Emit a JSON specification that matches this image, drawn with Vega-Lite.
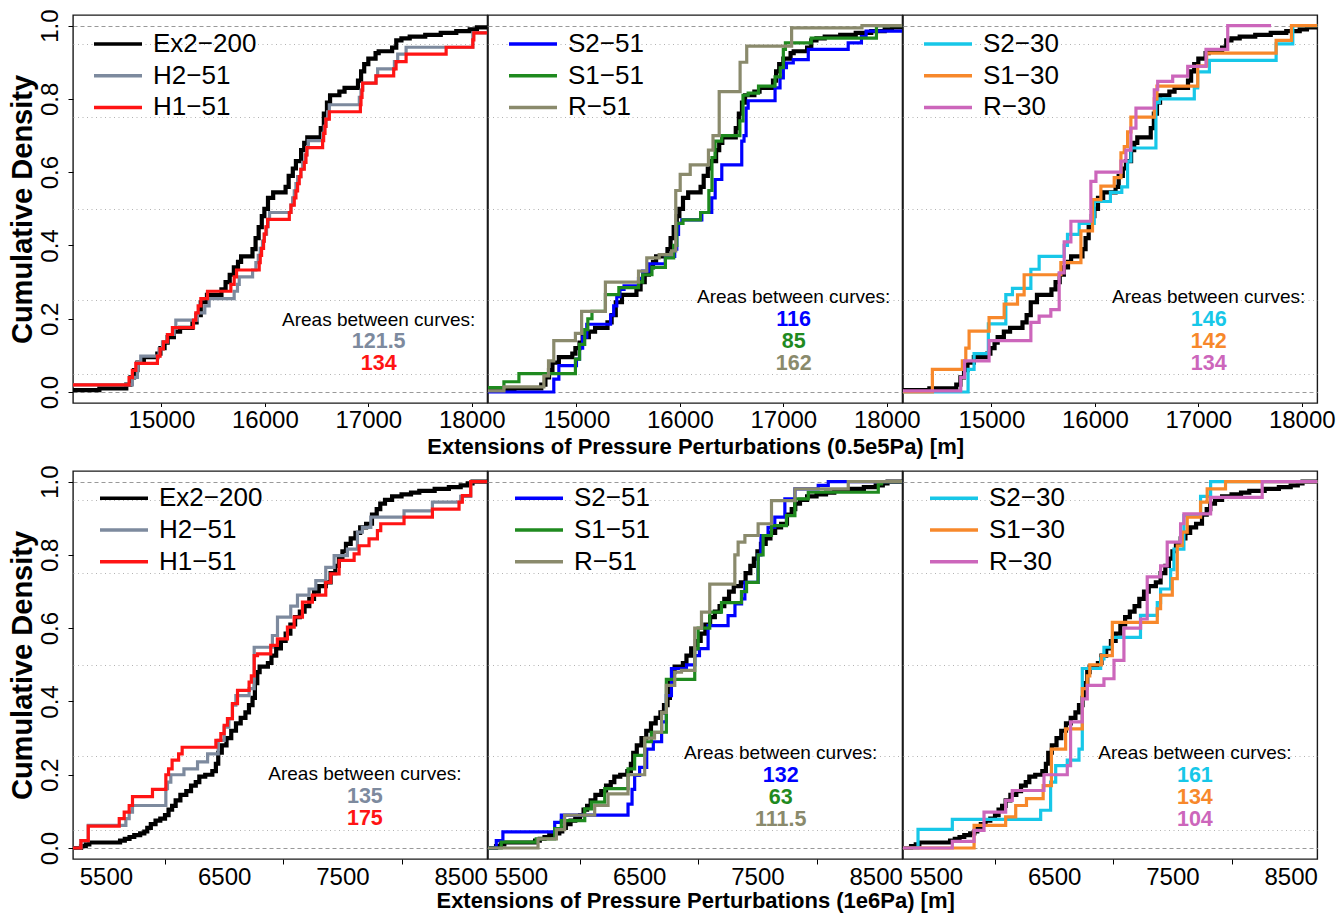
{
 "$schema": "https://vega.github.io/schema/vega-lite/v6.json",
 "padding": {"left": 7, "top": 8, "right": 2, "bottom": 2},
 "background": "white",
 "datasets": {
  "top": [
   {"series":"Ex2−200","x":14000,"y":0.005},{"series":"Ex2−200","x":14400,"y":0.01},{"series":"Ex2−200","x":14660,"y":0.02},{"series":"Ex2−200","x":14700,"y":0.04},{"series":"Ex2−200","x":14735,"y":0.06},{"series":"Ex2−200","x":14768,"y":0.08},{"series":"Ex2−200","x":14830,"y":0.095},{"series":"Ex2−200","x":14960,"y":0.105},{"series":"Ex2−200","x":14990,"y":0.12},{"series":"Ex2−200","x":15030,"y":0.135},{"series":"Ex2−200","x":15060,"y":0.15},{"series":"Ex2−200","x":15120,"y":0.165},{"series":"Ex2−200","x":15180,"y":0.175},{"series":"Ex2−200","x":15300,"y":0.19},{"series":"Ex2−200","x":15340,"y":0.21},{"series":"Ex2−200","x":15380,"y":0.245},{"series":"Ex2−200","x":15440,"y":0.265},{"series":"Ex2−200","x":15580,"y":0.28},{"series":"Ex2−200","x":15620,"y":0.3},{"series":"Ex2−200","x":15660,"y":0.32},{"series":"Ex2−200","x":15700,"y":0.34},{"series":"Ex2−200","x":15740,"y":0.355},{"series":"Ex2−200","x":15770,"y":0.37},{"series":"Ex2−200","x":15880,"y":0.39},{"series":"Ex2−200","x":15910,"y":0.42},{"series":"Ex2−200","x":15940,"y":0.45},{"series":"Ex2−200","x":15970,"y":0.48},{"series":"Ex2−200","x":15995,"y":0.5},{"series":"Ex2−200","x":16030,"y":0.53},{"series":"Ex2−200","x":16080,"y":0.545},{"series":"Ex2−200","x":16200,"y":0.56},{"series":"Ex2−200","x":16230,"y":0.59},{"series":"Ex2−200","x":16270,"y":0.61},{"series":"Ex2−200","x":16300,"y":0.63},{"series":"Ex2−200","x":16350,"y":0.66},{"series":"Ex2−200","x":16380,"y":0.68},{"series":"Ex2−200","x":16410,"y":0.695},{"series":"Ex2−200","x":16540,"y":0.72},{"series":"Ex2−200","x":16570,"y":0.76},{"series":"Ex2−200","x":16600,"y":0.79},{"series":"Ex2−200","x":16630,"y":0.81},{"series":"Ex2−200","x":16720,"y":0.82},{"series":"Ex2−200","x":16770,"y":0.83},{"series":"Ex2−200","x":16900,"y":0.85},{"series":"Ex2−200","x":16930,"y":0.875},{"series":"Ex2−200","x":16960,"y":0.895},{"series":"Ex2−200","x":17000,"y":0.91},{"series":"Ex2−200","x":17070,"y":0.925},{"series":"Ex2−200","x":17100,"y":0.93},{"series":"Ex2−200","x":17230,"y":0.94},{"series":"Ex2−200","x":17270,"y":0.96},{"series":"Ex2−200","x":17320,"y":0.965},{"series":"Ex2−200","x":17400,"y":0.97},{"series":"Ex2−200","x":17550,"y":0.975},{"series":"Ex2−200","x":17700,"y":0.98},{"series":"Ex2−200","x":17850,"y":0.985},{"series":"Ex2−200","x":17980,"y":0.99},{"series":"Ex2−200","x":18050,"y":0.995},{"series":"Ex2−200","x":18300,"y":1},
   {"series":"H2−51","x":14000,"y":0.0196},{"series":"H2−51","x":14719,"y":0.04},{"series":"H2−51","x":14768,"y":0.08},{"series":"H2−51","x":14800,"y":0.098},{"series":"H2−51","x":14977,"y":0.118},{"series":"H2−51","x":15010,"y":0.137},{"series":"H2−51","x":15058,"y":0.157},{"series":"H2−51","x":15123,"y":0.176},{"series":"H2−51","x":15139,"y":0.196},{"series":"H2−51","x":15348,"y":0.216},{"series":"H2−51","x":15419,"y":0.235},{"series":"H2−51","x":15461,"y":0.255},{"series":"H2−51","x":15703,"y":0.275},{"series":"H2−51","x":15735,"y":0.294},{"series":"H2−51","x":15752,"y":0.314},{"series":"H2−51","x":15881,"y":0.333},{"series":"H2−51","x":15913,"y":0.353},{"series":"H2−51","x":15936,"y":0.373},{"series":"H2−51","x":15955,"y":0.392},{"series":"H2−51","x":15977,"y":0.412},{"series":"H2−51","x":15994,"y":0.431},{"series":"H2−51","x":16016,"y":0.451},{"series":"H2−51","x":16032,"y":0.471},{"series":"H2−51","x":16045,"y":0.49},{"series":"H2−51","x":16252,"y":0.51},{"series":"H2−51","x":16268,"y":0.53},{"series":"H2−51","x":16284,"y":0.549},{"series":"H2−51","x":16300,"y":0.569},{"series":"H2−51","x":16316,"y":0.588},{"series":"H2−51","x":16348,"y":0.608},{"series":"H2−51","x":16365,"y":0.627},{"series":"H2−51","x":16387,"y":0.647},{"series":"H2−51","x":16406,"y":0.667},{"series":"H2−51","x":16419,"y":0.686},{"series":"H2−51","x":16558,"y":0.706},{"series":"H2−51","x":16574,"y":0.725},{"series":"H2−51","x":16590,"y":0.745},{"series":"H2−51","x":16606,"y":0.765},{"series":"H2−51","x":16623,"y":0.784},{"series":"H2−51","x":16913,"y":0.804},{"series":"H2−51","x":16929,"y":0.824},{"series":"H2−51","x":16945,"y":0.843},{"series":"H2−51","x":17074,"y":0.863},{"series":"H2−51","x":17090,"y":0.882},{"series":"H2−51","x":17252,"y":0.902},{"series":"H2−51","x":17284,"y":0.922},{"series":"H2−51","x":17365,"y":0.941},{"series":"H2−51","x":18010,"y":0.98},{"series":"H2−51","x":18300,"y":1},
   {"series":"H1−51","x":14000,"y":0.0196},{"series":"H1−51","x":14687,"y":0.039},{"series":"H1−51","x":14719,"y":0.059},{"series":"H1−51","x":14752,"y":0.078},{"series":"H1−51","x":14961,"y":0.098},{"series":"H1−51","x":14987,"y":0.118},{"series":"H1−51","x":15019,"y":0.137},{"series":"H1−51","x":15058,"y":0.157},{"series":"H1−51","x":15106,"y":0.176},{"series":"H1−51","x":15310,"y":0.196},{"series":"H1−51","x":15332,"y":0.216},{"series":"H1−51","x":15355,"y":0.235},{"series":"H1−51","x":15381,"y":0.255},{"series":"H1−51","x":15445,"y":0.275},{"series":"H1−51","x":15671,"y":0.294},{"series":"H1−51","x":15703,"y":0.314},{"series":"H1−51","x":15726,"y":0.333},{"series":"H1−51","x":15945,"y":0.353},{"series":"H1−51","x":15955,"y":0.373},{"series":"H1−51","x":15968,"y":0.392},{"series":"H1−51","x":15987,"y":0.412},{"series":"H1−51","x":15994,"y":0.431},{"series":"H1−51","x":16010,"y":0.451},{"series":"H1−51","x":16026,"y":0.471},{"series":"H1−51","x":16236,"y":0.49},{"series":"H1−51","x":16252,"y":0.51},{"series":"H1−51","x":16284,"y":0.53},{"series":"H1−51","x":16300,"y":0.549},{"series":"H1−51","x":16316,"y":0.569},{"series":"H1−51","x":16332,"y":0.588},{"series":"H1−51","x":16348,"y":0.608},{"series":"H1−51","x":16381,"y":0.627},{"series":"H1−51","x":16397,"y":0.647},{"series":"H1−51","x":16406,"y":0.667},{"series":"H1−51","x":16558,"y":0.686},{"series":"H1−51","x":16568,"y":0.706},{"series":"H1−51","x":16581,"y":0.725},{"series":"H1−51","x":16590,"y":0.745},{"series":"H1−51","x":16623,"y":0.765},{"series":"H1−51","x":16923,"y":0.784},{"series":"H1−51","x":16929,"y":0.804},{"series":"H1−51","x":16939,"y":0.824},{"series":"H1−51","x":16945,"y":0.843},{"series":"H1−51","x":17074,"y":0.863},{"series":"H1−51","x":17245,"y":0.882},{"series":"H1−51","x":17268,"y":0.902},{"series":"H1−51","x":17365,"y":0.922},{"series":"H1−51","x":17752,"y":0.941},{"series":"H1−51","x":18010,"y":0.961},{"series":"H1−51","x":18020,"y":0.98},{"series":"H1−51","x":18300,"y":1},
   {"series":"S2−51","x":14000,"y":0},{"series":"S2−51","x":14781,"y":0.035},{"series":"S2−51","x":14830,"y":0.072},{"series":"S2−51","x":15000,"y":0.09},{"series":"S2−51","x":15030,"y":0.12},{"series":"S2−51","x":15060,"y":0.15},{"series":"S2−51","x":15100,"y":0.185},{"series":"S2−51","x":15330,"y":0.21},{"series":"S2−51","x":15360,"y":0.235},{"series":"S2−51","x":15390,"y":0.26},{"series":"S2−51","x":15420,"y":0.28},{"series":"S2−51","x":15460,"y":0.29},{"series":"S2−51","x":15600,"y":0.31},{"series":"S2−51","x":15640,"y":0.33},{"series":"S2−51","x":15700,"y":0.35},{"series":"S2−51","x":15860,"y":0.37},{"series":"S2−51","x":15950,"y":0.39},{"series":"S2−51","x":15970,"y":0.43},{"series":"S2−51","x":15987,"y":0.46},{"series":"S2−51","x":16019,"y":0.47},{"series":"S2−51","x":16212,"y":0.49},{"series":"S2−51","x":16308,"y":0.53},{"series":"S2−51","x":16341,"y":0.58},{"series":"S2−51","x":16405,"y":0.62},{"series":"S2−51","x":16598,"y":0.685},{"series":"S2−51","x":16620,"y":0.7},{"series":"S2−51","x":16640,"y":0.775},{"series":"S2−51","x":16660,"y":0.795},{"series":"S2−51","x":16920,"y":0.83},{"series":"S2−51","x":16968,"y":0.857},{"series":"S2−51","x":17000,"y":0.885},{"series":"S2−51","x":17030,"y":0.898},{"series":"S2−51","x":17096,"y":0.907},{"series":"S2−51","x":17241,"y":0.935},{"series":"S2−51","x":17627,"y":0.953},{"series":"S2−51","x":17755,"y":0.97},{"series":"S2−51","x":17800,"y":0.985},{"series":"S2−51","x":18300,"y":1},
   {"series":"S1−51","x":14000,"y":0.012},{"series":"S1−51","x":14299,"y":0.028},{"series":"S1−51","x":14444,"y":0.05},{"series":"S1−51","x":14990,"y":0.09},{"series":"S1−51","x":15030,"y":0.13},{"series":"S1−51","x":15080,"y":0.17},{"series":"S1−51","x":15110,"y":0.2},{"series":"S1−51","x":15150,"y":0.22},{"series":"S1−51","x":15280,"y":0.266},{"series":"S1−51","x":15410,"y":0.285},{"series":"S1−51","x":15600,"y":0.3},{"series":"S1−51","x":15640,"y":0.32},{"series":"S1−51","x":15730,"y":0.34},{"series":"S1−51","x":15860,"y":0.366},{"series":"S1−51","x":15940,"y":0.4},{"series":"S1−51","x":15970,"y":0.46},{"series":"S1−51","x":16030,"y":0.47},{"series":"S1−51","x":16200,"y":0.49},{"series":"S1−51","x":16280,"y":0.55},{"series":"S1−51","x":16310,"y":0.64},{"series":"S1−51","x":16340,"y":0.685},{"series":"S1−51","x":16405,"y":0.7},{"series":"S1−51","x":16580,"y":0.74},{"series":"S1−51","x":16610,"y":0.81},{"series":"S1−51","x":16660,"y":0.816},{"series":"S1−51","x":16760,"y":0.835},{"series":"S1−51","x":16920,"y":0.86},{"series":"S1−51","x":16970,"y":0.885},{"series":"S1−51","x":17000,"y":0.935},{"series":"S1−51","x":17020,"y":0.953},{"series":"S1−51","x":17270,"y":0.966},{"series":"S1−51","x":17900,"y":1},{"series":"S1−51","x":18300,"y":1},
   {"series":"R−51","x":14000,"y":0.003},{"series":"R−51","x":14299,"y":0.014},{"series":"R−51","x":14685,"y":0.044},{"series":"R−51","x":14730,"y":0.085},{"series":"R−51","x":14781,"y":0.14},{"series":"R−51","x":14990,"y":0.16},{"series":"R−51","x":15050,"y":0.22},{"series":"R−51","x":15280,"y":0.3},{"series":"R−51","x":15600,"y":0.33},{"series":"R−51","x":15680,"y":0.366},{"series":"R−51","x":15800,"y":0.375},{"series":"R−51","x":15920,"y":0.385},{"series":"R−51","x":15960,"y":0.55},{"series":"R−51","x":16003,"y":0.594},{"series":"R−51","x":16100,"y":0.62},{"series":"R−51","x":16276,"y":0.66},{"series":"R−51","x":16320,"y":0.7},{"series":"R−51","x":16380,"y":0.82},{"series":"R−51","x":16582,"y":0.9},{"series":"R−51","x":16646,"y":0.944},{"series":"R−51","x":17080,"y":0.994},{"series":"R−51","x":17760,"y":1},{"series":"R−51","x":18300,"y":1},
   {"series":"S2−30","x":14000,"y":0},{"series":"S2−30","x":14774,"y":0.062},{"series":"S2−30","x":14832,"y":0.105},{"series":"S2−30","x":14970,"y":0.186},{"series":"S2−30","x":15139,"y":0.266},{"series":"S2−30","x":15203,"y":0.283},{"series":"S2−30","x":15381,"y":0.335},{"series":"S2−30","x":15461,"y":0.37},{"series":"S2−30","x":15703,"y":0.4},{"series":"S2−30","x":15735,"y":0.43},{"series":"S2−30","x":15848,"y":0.46},{"series":"S2−30","x":15994,"y":0.52},{"series":"S2−30","x":16150,"y":0.545},{"series":"S2−30","x":16260,"y":0.56},{"series":"S2−30","x":16316,"y":0.63},{"series":"S2−30","x":16348,"y":0.666},{"series":"S2−30","x":16590,"y":0.79},{"series":"S2−30","x":16623,"y":0.8},{"series":"S2−30","x":16961,"y":0.83},{"series":"S2−30","x":16994,"y":0.874},{"series":"S2−30","x":17107,"y":0.905},{"series":"S2−30","x":17752,"y":0.95},{"series":"S2−30","x":17913,"y":1},{"series":"S2−30","x":18300,"y":1},
   {"series":"S1−30","x":14000,"y":0},{"series":"S1−30","x":14429,"y":0.062},{"series":"S1−30","x":14719,"y":0.085},{"series":"S1−30","x":14752,"y":0.12},{"series":"S1−30","x":14784,"y":0.166},{"series":"S1−30","x":14977,"y":0.203},{"series":"S1−30","x":15123,"y":0.24},{"series":"S1−30","x":15252,"y":0.265},{"series":"S1−30","x":15316,"y":0.32},{"series":"S1−30","x":15671,"y":0.353},{"series":"S1−30","x":15865,"y":0.44},{"series":"S1−30","x":15977,"y":0.525},{"series":"S1−30","x":16058,"y":0.562},{"series":"S1−30","x":16187,"y":0.585},{"series":"S1−30","x":16252,"y":0.653},{"series":"S1−30","x":16284,"y":0.67},{"series":"S1−30","x":16316,"y":0.71},{"series":"S1−30","x":16348,"y":0.75},{"series":"S1−30","x":16574,"y":0.8},{"series":"S1−30","x":16600,"y":0.835},{"series":"S1−30","x":16994,"y":0.89},{"series":"S1−30","x":17080,"y":0.925},{"series":"S1−30","x":17752,"y":0.96},{"series":"S1−30","x":17900,"y":1},{"series":"S1−30","x":18300,"y":1},
   {"series":"R−30","x":14000,"y":0.003},{"series":"R−30","x":14703,"y":0.04},{"series":"R−30","x":14740,"y":0.085},{"series":"R−30","x":14977,"y":0.14},{"series":"R−30","x":15381,"y":0.19},{"series":"R−30","x":15461,"y":0.207},{"series":"R−30","x":15574,"y":0.225},{"series":"R−30","x":15655,"y":0.325},{"series":"R−30","x":15703,"y":0.41},{"series":"R−30","x":15768,"y":0.466},{"series":"R−30","x":15961,"y":0.575},{"series":"R−30","x":16010,"y":0.6},{"series":"R−30","x":16252,"y":0.63},{"series":"R−30","x":16300,"y":0.66},{"series":"R−30","x":16348,"y":0.72},{"series":"R−30","x":16397,"y":0.775},{"series":"R−30","x":16574,"y":0.825},{"series":"R−30","x":16607,"y":0.848},{"series":"R−30","x":16752,"y":0.862},{"series":"R−30","x":16897,"y":0.889},{"series":"R−30","x":17074,"y":0.935},{"series":"R−30","x":17284,"y":1},{"series":"R−30","x":17703,"y":1}
  ],
  "bot": [
   {"series":"Ex2−200","x":5000,"y":0},{"series":"Ex2−200","x":5290,"y":0.005},{"series":"Ex2−200","x":5330,"y":0.01},{"series":"Ex2−200","x":5360,"y":0.015},{"series":"Ex2−200","x":5620,"y":0.02},{"series":"Ex2−200","x":5660,"y":0.025},{"series":"Ex2−200","x":5700,"y":0.03},{"series":"Ex2−200","x":5740,"y":0.035},{"series":"Ex2−200","x":5790,"y":0.04},{"series":"Ex2−200","x":5825,"y":0.045},{"series":"Ex2−200","x":5850,"y":0.055},{"series":"Ex2−200","x":5880,"y":0.065},{"series":"Ex2−200","x":5920,"y":0.075},{"series":"Ex2−200","x":5960,"y":0.08},{"series":"Ex2−200","x":6000,"y":0.09},{"series":"Ex2−200","x":6030,"y":0.105},{"series":"Ex2−200","x":6060,"y":0.115},{"series":"Ex2−200","x":6090,"y":0.13},{"series":"Ex2−200","x":6130,"y":0.145},{"series":"Ex2−200","x":6180,"y":0.155},{"series":"Ex2−200","x":6220,"y":0.17},{"series":"Ex2−200","x":6260,"y":0.18},{"series":"Ex2−200","x":6290,"y":0.195},{"series":"Ex2−200","x":6340,"y":0.2},{"series":"Ex2−200","x":6400,"y":0.21},{"series":"Ex2−200","x":6430,"y":0.23},{"series":"Ex2−200","x":6450,"y":0.26},{"series":"Ex2−200","x":6480,"y":0.28},{"series":"Ex2−200","x":6520,"y":0.3},{"series":"Ex2−200","x":6560,"y":0.32},{"series":"Ex2−200","x":6600,"y":0.34},{"series":"Ex2−200","x":6640,"y":0.355},{"series":"Ex2−200","x":6680,"y":0.37},{"series":"Ex2−200","x":6710,"y":0.39},{"series":"Ex2−200","x":6740,"y":0.41},{"series":"Ex2−200","x":6760,"y":0.45},{"series":"Ex2−200","x":6780,"y":0.48},{"series":"Ex2−200","x":6800,"y":0.495},{"series":"Ex2−200","x":6870,"y":0.505},{"series":"Ex2−200","x":6900,"y":0.525},{"series":"Ex2−200","x":6940,"y":0.545},{"series":"Ex2−200","x":6980,"y":0.565},{"series":"Ex2−200","x":7020,"y":0.585},{"series":"Ex2−200","x":7060,"y":0.61},{"series":"Ex2−200","x":7100,"y":0.63},{"series":"Ex2−200","x":7140,"y":0.645},{"series":"Ex2−200","x":7180,"y":0.66},{"series":"Ex2−200","x":7220,"y":0.68},{"series":"Ex2−200","x":7260,"y":0.7},{"series":"Ex2−200","x":7300,"y":0.715},{"series":"Ex2−200","x":7360,"y":0.725},{"series":"Ex2−200","x":7400,"y":0.75},{"series":"Ex2−200","x":7440,"y":0.77},{"series":"Ex2−200","x":7470,"y":0.79},{"series":"Ex2−200","x":7500,"y":0.81},{"series":"Ex2−200","x":7530,"y":0.83},{"series":"Ex2−200","x":7570,"y":0.845},{"series":"Ex2−200","x":7610,"y":0.86},{"series":"Ex2−200","x":7650,"y":0.875},{"series":"Ex2−200","x":7700,"y":0.885},{"series":"Ex2−200","x":7750,"y":0.91},{"series":"Ex2−200","x":7790,"y":0.925},{"series":"Ex2−200","x":7820,"y":0.94},{"series":"Ex2−200","x":7860,"y":0.95},{"series":"Ex2−200","x":7920,"y":0.96},{"series":"Ex2−200","x":8000,"y":0.965},{"series":"Ex2−200","x":8080,"y":0.97},{"series":"Ex2−200","x":8150,"y":0.975},{"series":"Ex2−200","x":8280,"y":0.98},{"series":"Ex2−200","x":8400,"y":0.985},{"series":"Ex2−200","x":8500,"y":0.99},{"series":"Ex2−200","x":8560,"y":0.995},{"series":"Ex2−200","x":8600,"y":1},{"series":"Ex2−200","x":8800,"y":1},
   {"series":"H2−51","x":5000,"y":0},{"series":"H2−51","x":5289,"y":0.02},{"series":"H2−51","x":5351,"y":0.062},{"series":"H2−51","x":5669,"y":0.08},{"series":"H2−51","x":5697,"y":0.098},{"series":"H2−51","x":5725,"y":0.116},{"series":"H2−51","x":6007,"y":0.162},{"series":"H2−51","x":6021,"y":0.18},{"series":"H2−51","x":6049,"y":0.2},{"series":"H2−51","x":6160,"y":0.216},{"series":"H2−51","x":6275,"y":0.235},{"series":"H2−51","x":6360,"y":0.257},{"series":"H2−51","x":6450,"y":0.294},{"series":"H2−51","x":6500,"y":0.33},{"series":"H2−51","x":6540,"y":0.353},{"series":"H2−51","x":6570,"y":0.39},{"series":"H2−51","x":6599,"y":0.416},{"series":"H2−51","x":6711,"y":0.435},{"series":"H2−51","x":6754,"y":0.548},{"series":"H2−51","x":6908,"y":0.58},{"series":"H2−51","x":6951,"y":0.63},{"series":"H2−51","x":7063,"y":0.66},{"series":"H2−51","x":7120,"y":0.69},{"series":"H2−51","x":7218,"y":0.707},{"series":"H2−51","x":7275,"y":0.73},{"series":"H2−51","x":7359,"y":0.766},{"series":"H2−51","x":7430,"y":0.798},{"series":"H2−51","x":7542,"y":0.816},{"series":"H2−51","x":7627,"y":0.862},{"series":"H2−51","x":7669,"y":0.875},{"series":"H2−51","x":7740,"y":0.903},{"series":"H2−51","x":8021,"y":0.92},{"series":"H2−51","x":8261,"y":0.944},{"series":"H2−51","x":8500,"y":0.96},{"series":"H2−51","x":8585,"y":1},{"series":"H2−51","x":8800,"y":1},
   {"series":"H1−51","x":5000,"y":0},{"series":"H1−51","x":5289,"y":0.02},{"series":"H1−51","x":5351,"y":0.06},{"series":"H1−51","x":5613,"y":0.08},{"series":"H1−51","x":5655,"y":0.098},{"series":"H1−51","x":5697,"y":0.116},{"series":"H1−51","x":5725,"y":0.14},{"series":"H1−51","x":5894,"y":0.16},{"series":"H1−51","x":6007,"y":0.2},{"series":"H1−51","x":6030,"y":0.216},{"series":"H1−51","x":6060,"y":0.24},{"series":"H1−51","x":6115,"y":0.257},{"series":"H1−51","x":6145,"y":0.275},{"series":"H1−51","x":6430,"y":0.294},{"series":"H1−51","x":6472,"y":0.312},{"series":"H1−51","x":6500,"y":0.335},{"series":"H1−51","x":6528,"y":0.353},{"series":"H1−51","x":6570,"y":0.394},{"series":"H1−51","x":6613,"y":0.43},{"series":"H1−51","x":6711,"y":0.453},{"series":"H1−51","x":6730,"y":0.47},{"series":"H1−51","x":6754,"y":0.525},{"series":"H1−51","x":6782,"y":0.53},{"series":"H1−51","x":6894,"y":0.553},{"series":"H1−51","x":6950,"y":0.571},{"series":"H1−51","x":7035,"y":0.603},{"series":"H1−51","x":7092,"y":0.63},{"series":"H1−51","x":7162,"y":0.671},{"series":"H1−51","x":7246,"y":0.69},{"series":"H1−51","x":7359,"y":0.725},{"series":"H1−51","x":7401,"y":0.748},{"series":"H1−51","x":7472,"y":0.785},{"series":"H1−51","x":7599,"y":0.803},{"series":"H1−51","x":7641,"y":0.825},{"series":"H1−51","x":7725,"y":0.844},{"series":"H1−51","x":7796,"y":0.866},{"series":"H1−51","x":7824,"y":0.885},{"series":"H1−51","x":8021,"y":0.903},{"series":"H1−51","x":8261,"y":0.925},{"series":"H1−51","x":8486,"y":0.944},{"series":"H1−51","x":8514,"y":0.962},{"series":"H1−51","x":8585,"y":1},{"series":"H1−51","x":8800,"y":1},
   {"series":"S2−51","x":5000,"y":0},{"series":"S2−51","x":5292,"y":0.02},{"series":"S2−51","x":5348,"y":0.044},{"series":"S2−51","x":5786,"y":0.07},{"series":"S2−51","x":5842,"y":0.09},{"series":"S2−51","x":6406,"y":0.12},{"series":"S2−51","x":6440,"y":0.16},{"series":"S2−51","x":6462,"y":0.198},{"series":"S2−51","x":6504,"y":0.22},{"series":"S2−51","x":6564,"y":0.27},{"series":"S2−51","x":6620,"y":0.29},{"series":"S2−51","x":6690,"y":0.344},{"series":"S2−51","x":6730,"y":0.416},{"series":"S2−51","x":6773,"y":0.49},{"series":"S2−51","x":6900,"y":0.5},{"series":"S2−51","x":6970,"y":0.525},{"series":"S2−51","x":7010,"y":0.544},{"series":"S2−51","x":7083,"y":0.607},{"series":"S2−51","x":7252,"y":0.634},{"series":"S2−51","x":7310,"y":0.666},{"series":"S2−51","x":7366,"y":0.68},{"series":"S2−51","x":7394,"y":0.725},{"series":"S2−51","x":7506,"y":0.8},{"series":"S2−51","x":7530,"y":0.853},{"series":"S2−51","x":7590,"y":0.875},{"series":"S2−51","x":7647,"y":0.903},{"series":"S2−51","x":7732,"y":0.953},{"series":"S2−51","x":7817,"y":0.98},{"series":"S2−51","x":8014,"y":0.99},{"series":"S2−51","x":8099,"y":1},{"series":"S2−51","x":8800,"y":1},
   {"series":"S1−51","x":5000,"y":0},{"series":"S1−51","x":5334,"y":0.016},{"series":"S1−51","x":5630,"y":0.025},{"series":"S1−51","x":5786,"y":0.053},{"series":"S1−51","x":5842,"y":0.075},{"series":"S1−51","x":6040,"y":0.107},{"series":"S1−51","x":6096,"y":0.125},{"series":"S1−51","x":6209,"y":0.162},{"series":"S1−51","x":6406,"y":0.216},{"series":"S1−51","x":6462,"y":0.253},{"series":"S1−51","x":6547,"y":0.29},{"series":"S1−51","x":6603,"y":0.316},{"series":"S1−51","x":6730,"y":0.46},{"series":"S1−51","x":6970,"y":0.544},{"series":"S1−51","x":6999,"y":0.6},{"series":"S1−51","x":7097,"y":0.644},{"series":"S1−51","x":7196,"y":0.67},{"series":"S1−51","x":7365,"y":0.7},{"series":"S1−51","x":7408,"y":0.725},{"series":"S1−51","x":7506,"y":0.8},{"series":"S1−51","x":7548,"y":0.853},{"series":"S1−51","x":7619,"y":0.88},{"series":"S1−51","x":7746,"y":0.907},{"series":"S1−51","x":7817,"y":0.953},{"series":"S1−51","x":7930,"y":0.971},{"series":"S1−51","x":8522,"y":0.994},{"series":"S1−51","x":8550,"y":1},{"series":"S1−51","x":8800,"y":1},
   {"series":"R−51","x":5000,"y":0},{"series":"R−51","x":5645,"y":0.025},{"series":"R−51","x":5800,"y":0.05},{"series":"R−51","x":5870,"y":0.09},{"series":"R−51","x":6124,"y":0.116},{"series":"R−51","x":6237,"y":0.148},{"series":"R−51","x":6406,"y":0.2},{"series":"R−51","x":6547,"y":0.3},{"series":"R−51","x":6630,"y":0.316},{"series":"R−51","x":6690,"y":0.37},{"series":"R−51","x":6730,"y":0.444},{"series":"R−51","x":6801,"y":0.48},{"series":"R−51","x":6858,"y":0.485},{"series":"R−51","x":6970,"y":0.6},{"series":"R−51","x":7027,"y":0.644},{"series":"R−51","x":7097,"y":0.72},{"series":"R−51","x":7309,"y":0.8},{"series":"R−51","x":7337,"y":0.835},{"series":"R−51","x":7394,"y":0.853},{"series":"R−51","x":7506,"y":0.885},{"series":"R−51","x":7619,"y":0.948},{"series":"R−51","x":7817,"y":0.98},{"series":"R−51","x":8268,"y":1},{"series":"R−51","x":8800,"y":1},
   {"series":"S2−30","x":5000,"y":0},{"series":"S2−30","x":5349,"y":0.051},{"series":"S2−30","x":5639,"y":0.078},{"series":"S2−30","x":6386,"y":0.103},{"series":"S2−30","x":6470,"y":0.18},{"series":"S2−30","x":6513,"y":0.225},{"series":"S2−30","x":6611,"y":0.24},{"series":"S2−30","x":6710,"y":0.27},{"series":"S2−30","x":6738,"y":0.49},{"series":"S2−30","x":6893,"y":0.516},{"series":"S2−30","x":6921,"y":0.548},{"series":"S2−30","x":6992,"y":0.575},{"series":"S2−30","x":7230,"y":0.635},{"series":"S2−30","x":7372,"y":0.67},{"series":"S2−30","x":7400,"y":0.707},{"series":"S2−30","x":7485,"y":0.76},{"series":"S2−30","x":7513,"y":0.816},{"series":"S2−30","x":7597,"y":0.907},{"series":"S2−30","x":7738,"y":0.96},{"series":"S2−30","x":7823,"y":1},{"series":"S2−30","x":8800,"y":1},
   {"series":"S1−30","x":5000,"y":0},{"series":"S1−30","x":5823,"y":0.062},{"series":"S1−30","x":6090,"y":0.085},{"series":"S1−30","x":6175,"y":0.116},{"series":"S1−30","x":6266,"y":0.135},{"series":"S1−30","x":6407,"y":0.17},{"series":"S1−30","x":6477,"y":0.27},{"series":"S1−30","x":6597,"y":0.325},{"series":"S1−30","x":6738,"y":0.435},{"series":"S1−30","x":6780,"y":0.47},{"series":"S1−30","x":6801,"y":0.5},{"series":"S1−30","x":6900,"y":0.525},{"series":"S1−30","x":6992,"y":0.616},{"series":"S1−30","x":7372,"y":0.653},{"series":"S1−30","x":7400,"y":0.69},{"series":"S1−30","x":7499,"y":0.735},{"series":"S1−30","x":7541,"y":0.825},{"series":"S1−30","x":7583,"y":0.862},{"series":"S1−30","x":7625,"y":0.903},{"series":"S1−30","x":7738,"y":0.944},{"series":"S1−30","x":7794,"y":0.98},{"series":"S1−30","x":7949,"y":1},{"series":"S1−30","x":8800,"y":1},
   {"series":"R−30","x":5000,"y":0},{"series":"R−30","x":5639,"y":0.018},{"series":"R−30","x":5823,"y":0.048},{"series":"R−30","x":5907,"y":0.098},{"series":"R−30","x":6090,"y":0.13},{"series":"R−30","x":6146,"y":0.157},{"series":"R−30","x":6414,"y":0.2},{"series":"R−30","x":6611,"y":0.225},{"series":"R−30","x":6639,"y":0.344},{"series":"R−30","x":6738,"y":0.407},{"series":"R−30","x":6780,"y":0.444},{"series":"R−30","x":6921,"y":0.462},{"series":"R−30","x":7006,"y":0.512},{"series":"R−30","x":7090,"y":0.6},{"series":"R−30","x":7231,"y":0.625},{"series":"R−30","x":7287,"y":0.74},{"series":"R−30","x":7400,"y":0.77},{"series":"R−30","x":7456,"y":0.835},{"series":"R−30","x":7569,"y":0.885},{"series":"R−30","x":7597,"y":0.912},{"series":"R−30","x":7823,"y":0.957},{"series":"R−30","x":8259,"y":1},{"series":"R−30","x":8800,"y":1}
  ],
  "notes": [
   {"panel":"t1","x":17100,"y":0.18,"label":"Areas between curves:","series":""},
   {"panel":"t1","x":17100,"y":0.12,"label":"121.5","series":"H2−51"},
   {"panel":"t1","x":17100,"y":0.059,"label":"134","series":"H1−51"},
   {"panel":"t2","x":17100,"y":0.243,"label":"Areas between curves:","series":""},
   {"panel":"t2","x":17100,"y":0.18,"label":"116","series":"S2−51"},
   {"panel":"t2","x":17100,"y":0.12,"label":"85","series":"S1−51"},
   {"panel":"t2","x":17100,"y":0.06,"label":"162","series":"R−51"},
   {"panel":"t3","x":17100,"y":0.243,"label":"Areas between curves:","series":""},
   {"panel":"t3","x":17100,"y":0.18,"label":"146","series":"S2−30"},
   {"panel":"t3","x":17100,"y":0.12,"label":"142","series":"S1−30"},
   {"panel":"t3","x":17100,"y":0.06,"label":"134","series":"R−30"},
   {"panel":"b1","x":7690,"y":0.185,"label":"Areas between curves:","series":""},
   {"panel":"b1","x":7690,"y":0.122,"label":"135","series":"H2−51"},
   {"panel":"b1","x":7690,"y":0.062,"label":"175","series":"H1−51"},
   {"panel":"b2","x":7697,"y":0.243,"label":"Areas between curves:","series":""},
   {"panel":"b2","x":7697,"y":0.18,"label":"132","series":"S2−51"},
   {"panel":"b2","x":7697,"y":0.12,"label":"63","series":"S1−51"},
   {"panel":"b2","x":7697,"y":0.06,"label":"111.5","series":"R−51"},
   {"panel":"b3","x":7690,"y":0.243,"label":"Areas between curves:","series":""},
   {"panel":"b3","x":7690,"y":0.18,"label":"161","series":"S2−30"},
   {"panel":"b3","x":7690,"y":0.12,"label":"134","series":"S1−30"},
   {"panel":"b3","x":7690,"y":0.06,"label":"104","series":"R−30"}
  ]
 },
 "columns": 3,
 "spacing": {"row": 68, "column": 0},
 "bounds": "flush",
 "resolve": {"scale": {"color": "independent"}},
 "concat": [
    {
     "width": 414.3, "height": 388,
     "encoding": {
      "x": {"field": "x", "type": "quantitative", "scale": {"domain": [14145, 18150], "nice": false, "zero": false}, "axis": {"values": [15000, 16000, 17000, 18000], "format": "d", "tickSize": 3.5, "labelPadding": 1.5, "title": null}},
      "y": {"field": "y", "type": "quantitative", "scale": {"domain": [-0.03, 1.029], "nice": false, "zero": false}, "axis": {"values": [0, 0.05, 0.2, 0.25, 0.4, 0.5, 0.6, 0.75, 0.8, 0.95, 1], "labelExpr": "round(datum.value*100) % 20 == 0 ? format(datum.value, '.1f') : ''", "labelAngle": 270, "labelAlign": "center", "labelBaseline": "alphabetic", "labelPadding": 11, "tickSize": 5, "tickOpacity": {"condition": {"test": "round(datum.value*100) % 20 == 0", "value": 1}, "value": 0}, "grid": true, "gridOpacity": {"condition": {"test": "round(datum.value*100) % 20 != 0 || datum.value == 0 || datum.value == 1", "value": 1}, "value": 0}, "gridDash": {"condition": {"test": "datum.value == 0 || datum.value == 1", "value": [4, 3]}, "value": [1, 3.5]}, "gridColor": {"condition": {"test": "datum.value == 0 || datum.value == 1", "value": "#999999"}, "value": "#b3b3b3"}, "gridWidth": 1.2, "title": "Cumulative Density", "titleFontSize": 29, "titleFontWeight": "bold", "titleAngle": 270, "titleAlign": "center", "titleBaseline": "alphabetic", "titleX": -42, "titleY": 194}}
     },
     "layer": [
      {"data": {"name": "top"}, "transform": [{"filter": {"field": "series", "equal": "Ex2−200"}}], "mark": {"type": "line", "interpolate": "step-after", "strokeWidth": 4.2, "clip": true}, "encoding": {"color": {"field": "series", "type": "nominal", "scale": {"domain": ["Ex2−200", "H2−51", "H1−51"], "range": ["#000000", "#7d8a9e", "#ff1414"]}, "legend": {"title": null, "orient": "none", "legendX": 19, "legendY": 13.5}}}},
      {"data": {"name": "top"}, "transform": [{"filter": {"field": "series", "oneOf": ["H2−51", "H1−51"]}}], "mark": {"type": "line", "interpolate": "step-after", "strokeWidth": 3.2, "clip": true}, "encoding": {"color": {"field": "series", "type": "nominal", "scale": {"domain": ["Ex2−200", "H2−51", "H1−51"], "range": ["#000000", "#7d8a9e", "#ff1414"]}, "legend": {"title": null, "orient": "none", "legendX": 19, "legendY": 13.5}}}},
      {"data": {"name": "notes"}, "transform": [{"filter": "datum.panel == 't1' && datum.series == ''"}], "mark": {"type": "text", "fontSize": 19, "align": "center", "baseline": "alphabetic", "color": "#000"}, "encoding": {"text": {"field": "label"}}},
      {"data": {"name": "notes"}, "transform": [{"filter": "datum.panel == 't1' && datum.series != ''"}], "mark": {"type": "text", "fontSize": 21.5, "fontWeight": "bold", "align": "center", "baseline": "alphabetic"}, "encoding": {"text": {"field": "label"}, "color": {"field": "series", "type": "nominal", "scale": {"domain": ["Ex2−200", "H2−51", "H1−51"], "range": ["#000000", "#7d8a9e", "#ff1414"]}, "legend": null}}}
     ]
    },
    {
     "width": 414.3, "height": 388,
     "encoding": {
      "x": {"field": "x", "type": "quantitative", "scale": {"domain": [14145, 18150], "nice": false, "zero": false}, "axis": {"values": [15000, 16000, 17000, 18000], "format": "d", "tickSize": 3.5, "labelPadding": 1.5, "title": "Extensions of Pressure Perturbations (0.5e5Pa) [m]", "titlePadding": 4}},
      "y": {"field": "y", "type": "quantitative", "scale": {"domain": [-0.03, 1.029], "nice": false, "zero": false}, "axis": {"values": [0, 0.05, 0.25, 0.5, 0.75, 0.95, 1], "labels": false, "ticks": false, "grid": true, "gridDash": {"condition": {"test": "datum.value == 0 || datum.value == 1", "value": [4, 3]}, "value": [1, 3.5]}, "gridColor": {"condition": {"test": "datum.value == 0 || datum.value == 1", "value": "#999999"}, "value": "#b3b3b3"}, "gridWidth": 1.2, "title": null}}
     },
     "layer": [
      {"data": {"name": "top"}, "transform": [{"filter": {"field": "series", "equal": "Ex2−200"}}], "mark": {"type": "line", "interpolate": "step-after", "strokeWidth": 4.2, "clip": true, "color": "#000"}},
      {"data": {"name": "top"}, "transform": [{"filter": {"field": "series", "oneOf": ["S2−51", "S1−51", "R−51"]}}], "mark": {"type": "line", "interpolate": "step-after", "strokeWidth": 3.2, "clip": true}, "encoding": {"color": {"field": "series", "type": "nominal", "scale": {"domain": ["S2−51", "S1−51", "R−51"], "range": ["#0000ff", "#1f8a1f", "#8a8a6c"]}, "legend": {"title": null, "orient": "none", "legendX": 19, "legendY": 13.5}}}},
      {"data": {"name": "notes"}, "transform": [{"filter": "datum.panel == 't2' && datum.series == ''"}], "mark": {"type": "text", "fontSize": 19, "align": "center", "baseline": "alphabetic", "color": "#000"}, "encoding": {"text": {"field": "label"}}},
      {"data": {"name": "notes"}, "transform": [{"filter": "datum.panel == 't2' && datum.series != ''"}], "mark": {"type": "text", "fontSize": 21.5, "fontWeight": "bold", "align": "center", "baseline": "alphabetic"}, "encoding": {"text": {"field": "label"}, "color": {"field": "series", "type": "nominal", "scale": {"domain": ["S2−51", "S1−51", "R−51"], "range": ["#0000ff", "#1f8a1f", "#8a8a6c"]}, "legend": null}}}
     ]
    },
    {
     "width": 414.3, "height": 388,
     "encoding": {
      "x": {"field": "x", "type": "quantitative", "scale": {"domain": [14145, 18150], "nice": false, "zero": false}, "axis": {"values": [15000, 16000, 17000, 18000], "format": "d", "tickSize": 3.5, "labelPadding": 1.5, "title": null}},
      "y": {"field": "y", "type": "quantitative", "scale": {"domain": [-0.03, 1.029], "nice": false, "zero": false}, "axis": {"values": [0, 0.05, 0.25, 0.5, 0.75, 0.95, 1], "labels": false, "ticks": false, "grid": true, "gridDash": {"condition": {"test": "datum.value == 0 || datum.value == 1", "value": [4, 3]}, "value": [1, 3.5]}, "gridColor": {"condition": {"test": "datum.value == 0 || datum.value == 1", "value": "#999999"}, "value": "#b3b3b3"}, "gridWidth": 1.2, "title": null}}
     },
     "layer": [
      {"data": {"name": "top"}, "transform": [{"filter": {"field": "series", "equal": "Ex2−200"}}], "mark": {"type": "line", "interpolate": "step-after", "strokeWidth": 4.2, "clip": true, "color": "#000"}},
      {"data": {"name": "top"}, "transform": [{"filter": {"field": "series", "oneOf": ["S2−30", "S1−30", "R−30"]}}], "mark": {"type": "line", "interpolate": "step-after", "strokeWidth": 3.2, "clip": true}, "encoding": {"color": {"field": "series", "type": "nominal", "scale": {"domain": ["S2−30", "S1−30", "R−30"], "range": ["#17c7e8", "#f7882b", "#cc66bb"]}, "legend": {"title": null, "orient": "none", "legendX": 19, "legendY": 13.5}}}},
      {"data": {"name": "notes"}, "transform": [{"filter": "datum.panel == 't3' && datum.series == ''"}], "mark": {"type": "text", "fontSize": 19, "align": "center", "baseline": "alphabetic", "color": "#000"}, "encoding": {"text": {"field": "label"}}},
      {"data": {"name": "notes"}, "transform": [{"filter": "datum.panel == 't3' && datum.series != ''"}], "mark": {"type": "text", "fontSize": 21.5, "fontWeight": "bold", "align": "center", "baseline": "alphabetic"}, "encoding": {"text": {"field": "label"}, "color": {"field": "series", "type": "nominal", "scale": {"domain": ["S2−30", "S1−30", "R−30"], "range": ["#17c7e8", "#f7882b", "#cc66bb"]}, "legend": null}}}
     ]
    },
    {
     "width": 414.3, "height": 388,
     "encoding": {
      "x": {"field": "x", "type": "quantitative", "scale": {"domain": [5222, 8725], "nice": false, "zero": false}, "axis": {"values": [5500, 6000, 6500, 7000, 7500, 8000, 8500], "format": "d", "labelExpr": "datum.value % 1000 == 500 ? datum.label : ''", "tickOpacity": {"condition": {"test": "datum.value % 1000 == 0", "value": 1}, "value": 0}, "tickSize": 5, "labelPadding": 1.5, "title": null}},
      "y": {"field": "y", "type": "quantitative", "scale": {"domain": [-0.03, 1.029], "nice": false, "zero": false}, "axis": {"values": [0, 0.05, 0.2, 0.25, 0.4, 0.5, 0.6, 0.75, 0.8, 0.95, 1], "labelExpr": "round(datum.value*100) % 20 == 0 ? format(datum.value, '.1f') : ''", "labelAngle": 270, "labelAlign": "center", "labelBaseline": "alphabetic", "labelPadding": 11, "tickSize": 5, "tickOpacity": {"condition": {"test": "round(datum.value*100) % 20 == 0", "value": 1}, "value": 0}, "grid": true, "gridOpacity": {"condition": {"test": "round(datum.value*100) % 20 != 0 || datum.value == 0 || datum.value == 1", "value": 1}, "value": 0}, "gridDash": {"condition": {"test": "datum.value == 0 || datum.value == 1", "value": [4, 3]}, "value": [1, 3.5]}, "gridColor": {"condition": {"test": "datum.value == 0 || datum.value == 1", "value": "#999999"}, "value": "#b3b3b3"}, "gridWidth": 1.2, "title": "Cumulative Density", "titleFontSize": 29, "titleFontWeight": "bold", "titleAngle": 270, "titleAlign": "center", "titleBaseline": "alphabetic", "titleX": -42, "titleY": 194}}
     },
     "layer": [
      {"data": {"name": "bot"}, "transform": [{"filter": {"field": "series", "equal": "Ex2−200"}}], "mark": {"type": "line", "interpolate": "step-after", "strokeWidth": 4.2, "clip": true}, "encoding": {"color": {"field": "series", "type": "nominal", "scale": {"domain": ["Ex2−200", "H2−51", "H1−51"], "range": ["#000000", "#7d8a9e", "#ff1414"]}, "legend": {"title": null, "orient": "none", "legendX": 25, "legendY": 11.8}}}},
      {"data": {"name": "bot"}, "transform": [{"filter": {"field": "series", "oneOf": ["H2−51", "H1−51"]}}], "mark": {"type": "line", "interpolate": "step-after", "strokeWidth": 3.2, "clip": true}, "encoding": {"color": {"field": "series", "type": "nominal", "scale": {"domain": ["Ex2−200", "H2−51", "H1−51"], "range": ["#000000", "#7d8a9e", "#ff1414"]}, "legend": {"title": null, "orient": "none", "legendX": 25, "legendY": 11.8}}}},
      {"data": {"name": "notes"}, "transform": [{"filter": "datum.panel == 'b1' && datum.series == ''"}], "mark": {"type": "text", "fontSize": 19, "align": "center", "baseline": "alphabetic", "color": "#000"}, "encoding": {"text": {"field": "label"}}},
      {"data": {"name": "notes"}, "transform": [{"filter": "datum.panel == 'b1' && datum.series != ''"}], "mark": {"type": "text", "fontSize": 21.5, "fontWeight": "bold", "align": "center", "baseline": "alphabetic"}, "encoding": {"text": {"field": "label"}, "color": {"field": "series", "type": "nominal", "scale": {"domain": ["Ex2−200", "H2−51", "H1−51"], "range": ["#000000", "#7d8a9e", "#ff1414"]}, "legend": null}}}
     ]
    },
    {
     "width": 414.3, "height": 388,
     "encoding": {
      "x": {"field": "x", "type": "quantitative", "scale": {"domain": [5222, 8725], "nice": false, "zero": false}, "axis": {"values": [5500, 6000, 6500, 7000, 7500, 8000, 8500], "format": "d", "labelExpr": "datum.value % 1000 == 500 ? datum.label : ''", "tickOpacity": {"condition": {"test": "datum.value % 1000 == 0", "value": 1}, "value": 0}, "tickSize": 5, "labelPadding": 1.5, "title": "Extensions of Pressure Perturbations (1e6Pa) [m]", "titlePadding": 1}},
      "y": {"field": "y", "type": "quantitative", "scale": {"domain": [-0.03, 1.029], "nice": false, "zero": false}, "axis": {"values": [0, 0.05, 0.25, 0.5, 0.75, 0.95, 1], "labels": false, "ticks": false, "grid": true, "gridDash": {"condition": {"test": "datum.value == 0 || datum.value == 1", "value": [4, 3]}, "value": [1, 3.5]}, "gridColor": {"condition": {"test": "datum.value == 0 || datum.value == 1", "value": "#999999"}, "value": "#b3b3b3"}, "gridWidth": 1.2, "title": null}}
     },
     "layer": [
      {"data": {"name": "bot"}, "transform": [{"filter": {"field": "series", "equal": "Ex2−200"}}], "mark": {"type": "line", "interpolate": "step-after", "strokeWidth": 4.2, "clip": true, "color": "#000"}},
      {"data": {"name": "bot"}, "transform": [{"filter": {"field": "series", "oneOf": ["S2−51", "S1−51", "R−51"]}}], "mark": {"type": "line", "interpolate": "step-after", "strokeWidth": 3.2, "clip": true}, "encoding": {"color": {"field": "series", "type": "nominal", "scale": {"domain": ["S2−51", "S1−51", "R−51"], "range": ["#0000ff", "#1f8a1f", "#8a8a6c"]}, "legend": {"title": null, "orient": "none", "legendX": 25, "legendY": 11.8}}}},
      {"data": {"name": "notes"}, "transform": [{"filter": "datum.panel == 'b2' && datum.series == ''"}], "mark": {"type": "text", "fontSize": 19, "align": "center", "baseline": "alphabetic", "color": "#000"}, "encoding": {"text": {"field": "label"}}},
      {"data": {"name": "notes"}, "transform": [{"filter": "datum.panel == 'b2' && datum.series != ''"}], "mark": {"type": "text", "fontSize": 21.5, "fontWeight": "bold", "align": "center", "baseline": "alphabetic"}, "encoding": {"text": {"field": "label"}, "color": {"field": "series", "type": "nominal", "scale": {"domain": ["S2−51", "S1−51", "R−51"], "range": ["#0000ff", "#1f8a1f", "#8a8a6c"]}, "legend": null}}}
     ]
    },
    {
     "width": 414.3, "height": 388,
     "encoding": {
      "x": {"field": "x", "type": "quantitative", "scale": {"domain": [5222, 8725], "nice": false, "zero": false}, "axis": {"values": [5500, 6000, 6500, 7000, 7500, 8000, 8500], "format": "d", "labelExpr": "datum.value % 1000 == 500 ? datum.label : ''", "tickOpacity": {"condition": {"test": "datum.value % 1000 == 0", "value": 1}, "value": 0}, "tickSize": 5, "labelPadding": 1.5, "title": null}},
      "y": {"field": "y", "type": "quantitative", "scale": {"domain": [-0.03, 1.029], "nice": false, "zero": false}, "axis": {"values": [0, 0.05, 0.25, 0.5, 0.75, 0.95, 1], "labels": false, "ticks": false, "grid": true, "gridDash": {"condition": {"test": "datum.value == 0 || datum.value == 1", "value": [4, 3]}, "value": [1, 3.5]}, "gridColor": {"condition": {"test": "datum.value == 0 || datum.value == 1", "value": "#999999"}, "value": "#b3b3b3"}, "gridWidth": 1.2, "title": null}}
     },
     "layer": [
      {"data": {"name": "bot"}, "transform": [{"filter": {"field": "series", "equal": "Ex2−200"}}], "mark": {"type": "line", "interpolate": "step-after", "strokeWidth": 4.2, "clip": true, "color": "#000"}},
      {"data": {"name": "bot"}, "transform": [{"filter": {"field": "series", "oneOf": ["S2−30", "S1−30", "R−30"]}}], "mark": {"type": "line", "interpolate": "step-after", "strokeWidth": 3.2, "clip": true}, "encoding": {"color": {"field": "series", "type": "nominal", "scale": {"domain": ["S2−30", "S1−30", "R−30"], "range": ["#17c7e8", "#f7882b", "#cc66bb"]}, "legend": {"title": null, "orient": "none", "legendX": 25, "legendY": 11.8}}}},
      {"data": {"name": "notes"}, "transform": [{"filter": "datum.panel == 'b3' && datum.series == ''"}], "mark": {"type": "text", "fontSize": 19, "align": "center", "baseline": "alphabetic", "color": "#000"}, "encoding": {"text": {"field": "label"}}},
      {"data": {"name": "notes"}, "transform": [{"filter": "datum.panel == 'b3' && datum.series != ''"}], "mark": {"type": "text", "fontSize": 21.5, "fontWeight": "bold", "align": "center", "baseline": "alphabetic"}, "encoding": {"text": {"field": "label"}, "color": {"field": "series", "type": "nominal", "scale": {"domain": ["S2−30", "S1−30", "R−30"], "range": ["#17c7e8", "#f7882b", "#cc66bb"]}, "legend": null}}}
     ]
    }
 ],
 "config": {
  "font": "Liberation Sans",
  "view": {"stroke": "#1a1a1a", "strokeWidth": 1.4},
  "axis": {"domain": false, "grid": false, "labelFont": "Liberation Sans", "labelFontSize": 24, "labelColor": "#000", "tickColor": "#000", "tickWidth": 1, "titleFont": "Liberation Sans", "titleColor": "#000", "labelOverlap": false, "labelFlush": false},
  "axisX": {"titleFontSize": 22, "titleFontWeight": "bold"},
  "legend": {"symbolType": "stroke", "symbolSize": 2304, "symbolStrokeWidth": 3.5, "labelFont": "Liberation Sans", "labelFontSize": 26, "labelColor": "#000", "labelOffset": 9, "clipHeight": 31, "rowPadding": 0.7, "padding": 0},
  "text": {"font": "Liberation Sans"}
 }
}
